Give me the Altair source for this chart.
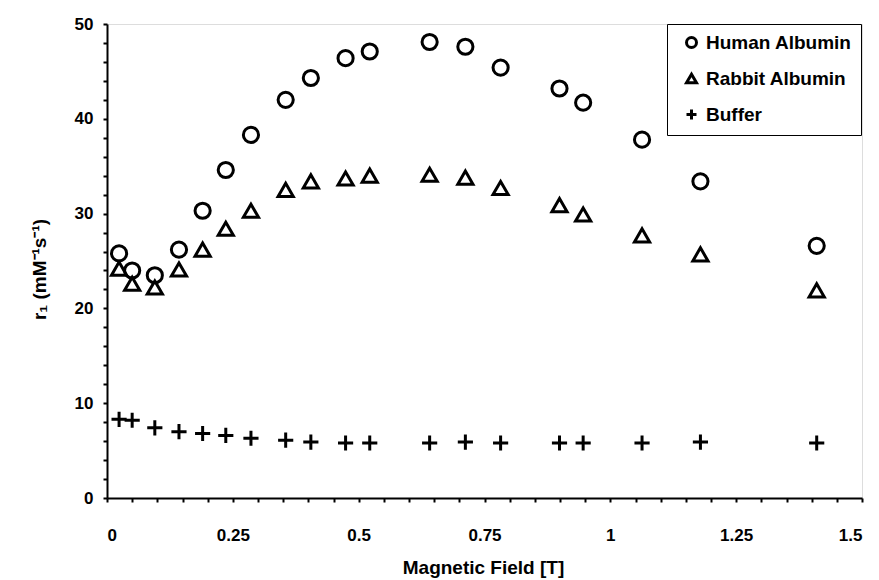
import altair as alt
import pandas as pd

field = [0.024, 0.05, 0.095, 0.143, 0.19, 0.236, 0.286, 0.355, 0.405, 0.474,
         0.522, 0.641, 0.712, 0.782, 0.899, 0.946, 1.063, 1.179, 1.41]
human = [25.8, 24.0, 23.5, 26.2, 30.3, 34.6, 38.3, 42.0, 44.3, 46.4,
         47.1, 48.1, 47.6, 45.4, 43.2, 41.7, 37.8, 33.4, 26.6]
rabbit = [24.2, 22.6, 22.2, 24.1, 26.2, 28.4, 30.3, 32.5, 33.4, 33.7,
          34.0, 34.1, 33.8, 32.7, 30.9, 29.9, 27.7, 25.7, 21.9]
buffer_ = [8.3, 8.2, 7.4, 7.0, 6.8, 6.6, 6.3, 6.1, 5.9, 5.8,
           5.8, 5.8, 5.9, 5.8, 5.8, 5.8, 5.8, 5.9, 5.8]
series_names = ["Human Albumin", "Rabbit Albumin", "Buffer"]

rows = []
for name, vals in zip(series_names, [human, rabbit, buffer_]):
    for f, v in zip(field, vals):
        rows.append({"field": f, "r1": v, "series": name})
df = pd.DataFrame(rows)

x_ticks = [round(i * 0.05, 2) for i in range(31)]
y_ticks = list(range(0, 51, 2))
plus_path = "M-1,0L1,0M0,-1L0,1"

FONT = "Liberation Sans"

chart = alt.Chart(df).mark_point(
    filled=False, strokeWidth=3, color="black", opacity=1, size=230
).encode(
    x=alt.X(
        "field:Q",
        scale=alt.Scale(domain=[0, 1.5], nice=False, zero=False),
        axis=alt.Axis(
            values=x_ticks,
            labelExpr="abs(datum.value*4 - round(datum.value*4)) < 0.001 ? format(datum.value, '~g') : ''",
            title="Magnetic Field [T]",
            grid=False,
            tickSize=4, tickWidth=2, tickColor="black",
            domainColor="black", domainWidth=2,
            labelFont=FONT, labelFontSize=17, labelFontWeight="bold", labelColor="black",
            labelPadding=25,
            titleFont=FONT, titleFontSize=19, titleFontWeight="bold", titleColor="black",
            titleX=376, titleY=69, titleBaseline="middle",
        ),
    ),
    y=alt.Y(
        "r1:Q",
        scale=alt.Scale(domain=[0, 50], nice=False, zero=True),
        axis=alt.Axis(
            values=y_ticks,
            labelExpr="datum.value % 10 == 0 ? datum.value : ''",
            title="r₁ (mM⁻¹s⁻¹)",
            grid=False,
            tickSize=4, tickWidth=2, tickColor="black",
            domainColor="black", domainWidth=2,
            labelFont=FONT, labelFontSize=17, labelFontWeight="bold", labelColor="black",
            labelPadding=10,
            titleFont=FONT, titleFontSize=19, titleFontWeight="bold", titleColor="black",
            titleX=-68, titleY=245, titleAngle=270, titleAlign="center", titleBaseline="middle",
        ),
    ),
    shape=alt.Shape(
        "series:N",
        scale=alt.Scale(domain=series_names, range=["circle", "triangle-up", plus_path]),
        legend=alt.Legend(
            title=None,
            orient="none",
            legendX=560,
            legendY=0,
            padding=9,
            rowPadding=14,
            strokeColor="black",
            fillColor="white",
            labelFont=FONT, labelFontSize=19, labelFontWeight="bold", labelColor="black",
            symbolSize=100,
            symbolStrokeWidth=3,
            symbolStrokeColor="black",
            symbolOffset=6,
            labelOffset=5,
        ),
    ),
).properties(
    width=755,
    height=474,
    autosize=alt.AutoSizeParams(type="none"),
    padding={"left": 107, "top": 24, "right": 17, "bottom": 82},
).configure_view(
    stroke="black", strokeWidth=2
).configure(background="white")

chart.save("out.html", embed_options={"renderer": "svg", "actions": False})
